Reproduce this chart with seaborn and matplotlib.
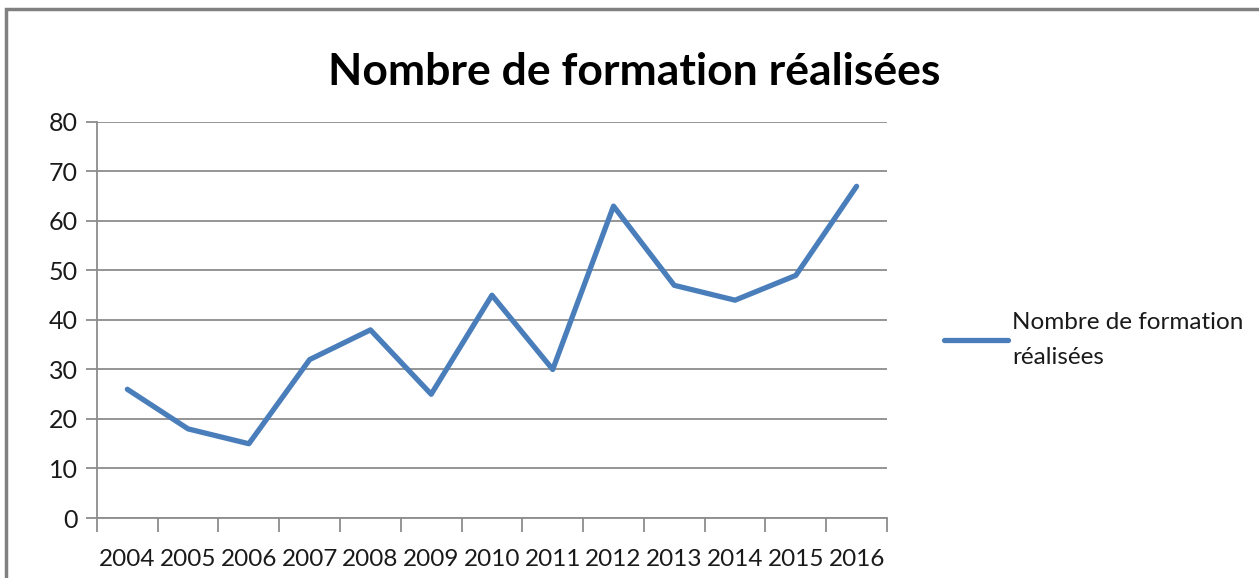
import numpy as np
import pandas as pd
import matplotlib
matplotlib.use("Agg")
import matplotlib.pyplot as plt
import seaborn as sns
from matplotlib.patches import Rectangle
from matplotlib.ticker import MultipleLocator, FixedLocator

years = [2004, 2005, 2006, 2007, 2008, 2009, 2010, 2011, 2012, 2013, 2014, 2015, 2016]
formations = [26, 18, 15, 32, 38, 25, 45, 30, 63, 47, 44, 49, 67]
series_name = "Nombre de formation réalisées"

sns.set_theme(style="white")
plt.rcParams["font.family"] = ["Lato", "DejaVu Sans"]

df = pd.DataFrame({"annee": years, "valeur": formations})

fig = plt.figure(figsize=(12.59, 5.78), dpi=100)
ax = fig.add_axes([0.077, 0.1038, 0.6275, 0.6852])

grid_col = "#8c8c8c"
sns.lineplot(data=df, x="annee", y="valeur", ax=ax, color="#4a7ebb",
             linewidth=3.8, label=series_name, zorder=3)

ax.set_xlim(years[0] - 0.5, years[-1] + 0.5)
ax.set_ylim(0, 80)
ax.yaxis.set_major_locator(MultipleLocator(10))
ax.set_xticks(years)
ax.set_xticklabels([str(y) for y in years])
ax.xaxis.set_minor_locator(FixedLocator(np.arange(years[0] - 0.5, years[-1] + 0.6, 1)))

ax.grid(axis="y", color=grid_col, linewidth=1.3)
ax.set_axisbelow(True)
for s in ["top", "right"]:
    ax.spines[s].set_visible(False)
for s in ["left", "bottom"]:
    ax.spines[s].set_color(grid_col)
    ax.spines[s].set_linewidth(1.3)

ax.tick_params(axis="y", which="major", left=True, length=8, width=1.3,
               color=grid_col, labelsize=18, pad=6, labelcolor="#1a1a1a")
ax.tick_params(axis="x", which="major", bottom=False, length=0,
               labelsize=17.5, pad=22, labelcolor="#1a1a1a")
ax.tick_params(axis="x", which="minor", bottom=True, length=10, width=1.3,
               color=grid_col)
ax.set_xlabel("")
ax.set_ylabel("")

fig.text(0.504, 0.875, series_name, ha="center", va="center",
         fontsize=32, fontweight="bold", color="black")

leg = ax.legend(loc="center left", bbox_to_anchor=(1.045, 0.45), frameon=False,
                fontsize=17.5, handlelength=2.6, handletextpad=0.2,
                labels=["Nombre de formation\nréalisées"])
for t in leg.get_texts():
    t.set_color("#1a1a1a")
    t.set_linespacing(1.85)

fig.patches.append(Rectangle((0.005, -0.05), 1.2, 1.034, transform=fig.transFigure,
                             fill=False, edgecolor="#808080", linewidth=2.5))

fig.savefig("out.png", dpi=100)
